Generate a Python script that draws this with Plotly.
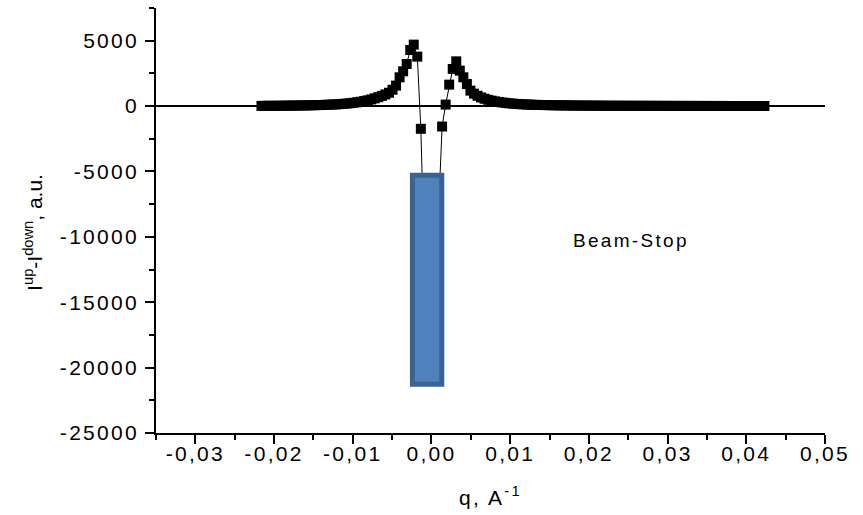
import plotly.graph_objects as go

# ---- data ----
q = [
    -0.02160, -0.02115, -0.02070, -0.02025, -0.01980, -0.01935, -0.01890, -0.01845, -0.01800, -0.01755,
    -0.01710, -0.01665, -0.01620, -0.01575, -0.01530, -0.01485, -0.01440, -0.01395, -0.01350, -0.01305,
    -0.01260, -0.01215, -0.01170, -0.01125, -0.01080, -0.01035, -0.00990, -0.00945, -0.00900, -0.00855,
    -0.00810, -0.00765, -0.00720, -0.00675, -0.00630, -0.00585, -0.00540, -0.00495, -0.00450, -0.00405,
    -0.00360, -0.00315, -0.00270, -0.00225, -0.00180, -0.00135, -0.00090, -0.00045, 0.00000, 0.00045,
    0.00090, 0.00135, 0.00180, 0.00225, 0.00270, 0.00315, 0.00360, 0.00405, 0.00450, 0.00495,
    0.00540, 0.00585, 0.00630, 0.00675, 0.00720, 0.00765, 0.00810, 0.00855, 0.00900, 0.00945,
    0.00990, 0.01035, 0.01080, 0.01125, 0.01170, 0.01215, 0.01260, 0.01305, 0.01350, 0.01395,
    0.01440, 0.01485, 0.01530, 0.01575, 0.01620, 0.01665, 0.01710, 0.01755, 0.01800, 0.01845,
    0.01890, 0.01935, 0.01980, 0.02025, 0.02070, 0.02115, 0.02160, 0.02205, 0.02250, 0.02295,
    0.02340, 0.02385, 0.02430, 0.02475, 0.02520, 0.02565, 0.02610, 0.02655, 0.02700, 0.02745,
    0.02790, 0.02835, 0.02880, 0.02925, 0.02970, 0.03015, 0.03060, 0.03105, 0.03150, 0.03195,
    0.03240, 0.03285, 0.03330, 0.03375, 0.03420, 0.03465, 0.03510, 0.03555, 0.03600, 0.03645,
    0.03690, 0.03735, 0.03780, 0.03825, 0.03870, 0.03915, 0.03960, 0.04005, 0.04050, 0.04095,
    0.04140, 0.04185, 0.04230,
]

i_diff = [
    15, 17, 19, 21, 23, 25, 28, 31, 34, 37,
    41, 45, 50, 55, 61, 67, 74, 84, 95, 105,
    117, 130, 148, 168, 192, 220, 252, 290, 333, 383,
    440, 510, 590, 680, 780, 890, 1020, 1250, 1565, 2200,
    2660, 3220, 4290, 4700, 3780, -1740, -11700, -17500, -19500, -15500,
    -8000, -1565, 115, 1640, 2840, 3420, 2710, 2200, 1690, 1180,
    950, 790, 660, 560, 480, 415, 360, 315, 275, 240,
    210, 185, 165, 147, 132, 119, 108, 98, 90, 83,
    77, 71, 66, 61, 57, 53, 50, 47, 44, 41,
    39, 37, 35, 33, 31, 30, 28, 27, 26, 25,
    24, 24, 23, 22, 22, 21, 20, 20, 19, 18,
    18, 17, 17, 16, 16, 15, 15, 14, 14, 13,
    13, 12, 12, 12, 11, 11, 10, 10, 10, 9,
    9, 9, 8, 8, 8, 7, 7, 7, 6, 6,
    6, 5, 5,
]

x_tickvals = [-0.03, -0.02, -0.01, 0.00, 0.01, 0.02, 0.03, 0.04, 0.05]
x_ticktext = ["-0,03", "-0,02", "-0,01", "0,00", "0,01", "0,02", "0,03", "0,04", "0,05"]
x_minorvals = [-0.035, -0.025, -0.015, -0.005, 0.005, 0.015, 0.025, 0.035, 0.045]

y_tickvals = [-25000, -20000, -15000, -10000, -5000, 0, 5000]
y_ticktext = ["-25000", "-20000", "-15000", "-10000", "-5000", "0", "5000"]
y_minorvals = [-22500, -17500, -12500, -7500, -2500, 2500, 7500]

# beam-stop box (data units)
stop_q = [-0.00242, 0.00131]
stop_i = [-21275, -5290]

FONT = "Liberation Sans, Arial, sans-serif"


def wide(t, sp=2.3):
    # the reference text is horizontally stretched; emulate with letter spacing
    return f'<span style="letter-spacing:{sp}px">{t}</span>'


fig = go.Figure()
fig.add_trace(go.Scatter(
    x=q, y=i_diff, mode="lines+markers",
    line=dict(color="black", width=1),
    marker=dict(symbol="square", size=10, color="black"),
    showlegend=False,
))

fig.add_shape(
    type="rect", xref="x", yref="y",
    x0=stop_q[0], x1=stop_q[1], y0=stop_i[0], y1=stop_i[1],
    fillcolor="#4F81BD", line=dict(color="#3B6291", width=5),
    layer="above",
)

fig.add_annotation(
    x=0.0253, y=-10270, xref="x", yref="y", text=wide("Beam-Stop"),
    showarrow=False, font=dict(family=FONT, size=19, color="black"),
)

# y-axis title placed as a rotated annotation
fig.add_annotation(
    x=-0.184, y=0.473, xref="paper", yref="paper",
    text="I<sup>up</sup>-I<sup>down</sup>, a.u.", textangle=-90,
    xanchor="center", yanchor="middle", showarrow=False,
    font=dict(family=FONT, size=21, color="black"),
)

axis_common = dict(
    showgrid=False, showline=True, linecolor="black", linewidth=1.5,
    ticks="outside", ticklen=9, tickwidth=1.5, tickcolor="black",
    tickfont=dict(family=FONT, size=21, color="black"),
    mirror=False,
)

fig.update_xaxes(
    **axis_common,
    range=[-0.035, 0.05], zeroline=False,
    tickmode="array", tickvals=x_tickvals, ticktext=[wide(t) for t in x_ticktext],
    ticklabelstandoff=-8,
    minor=dict(ticks="outside", ticklen=5, tickwidth=1.5, tickcolor="black",
               tickmode="array", tickvals=x_minorvals, showgrid=False),
    title=dict(text=wide("q, A<sup>-1</sup>"), font=dict(family=FONT, size=21, color="black"), standoff=26),
)
fig.update_yaxes(
    **axis_common,
    range=[-25000, 7500], zeroline=True, zerolinecolor="black", zerolinewidth=1.5,
    tickmode="array", tickvals=y_tickvals, ticktext=[wide(t) for t in y_ticktext],
    ticklabelstandoff=2,
    minor=dict(ticks="outside", ticklen=5, tickwidth=1.5, tickcolor="black",
               tickmode="array", tickvals=y_minorvals, showgrid=False),
)

fig.update_layout(
    width=863, height=515,
    margin=dict(l=156, r=38, t=8, b=82),
    plot_bgcolor="white", paper_bgcolor="white",
    font=dict(family=FONT, color="black"),
)

fig.write_html("out.html")
